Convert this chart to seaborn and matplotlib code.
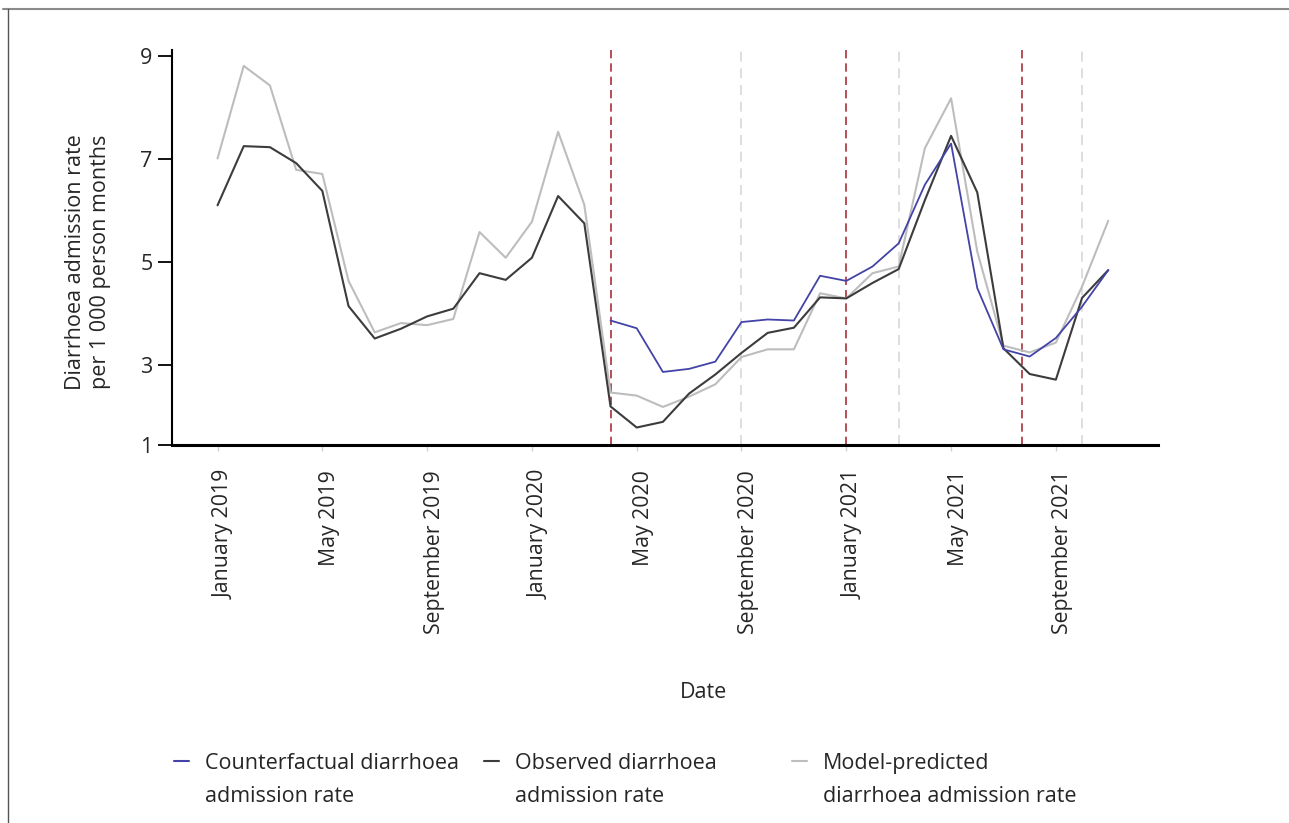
import numpy as np
import pandas as pd
import matplotlib.pyplot as plt
import matplotlib.transforms as mtransforms
from matplotlib.lines import Line2D
import seaborn as sns

# monthly rates, January 2019 (month 0) to November 2021 (month 34)
months = list(range(35))
observed = [6.10, 7.25, 7.23, 6.92, 6.38, 4.14, 3.51, 3.70, 3.94, 4.09, 4.78, 4.65,
            5.08, 6.28, 5.75, 2.19, 1.78, 1.89, 2.44, 2.81, 3.23, 3.62, 3.72, 4.31,
            4.29, 4.59, 4.86, 6.20, 7.45, 6.35, 3.32, 2.82, 2.71, 4.30, 4.84]
predicted = [7.01, 8.81, 8.43, 6.79, 6.71, 4.63, 3.63, 3.81, 3.77, 3.89, 5.58, 5.08,
             5.78, 7.53, 6.11, 2.46, 2.40, 2.18, 2.38, 2.62, 3.15, 3.30, 3.30, 4.39,
             4.29, 4.78, 4.91, 7.21, 8.18, 5.20, 3.37, 3.24, 3.43, 4.52, 5.80]
# counterfactual only exists from April 2020 (month 15)
cf_months = list(range(15, 35))
counterfactual = [3.86, 3.71, 2.86, 2.92, 3.06, 3.83, 3.88, 3.86, 4.73, 4.63,
                  4.91, 5.36, 6.50, 7.30, 4.49, 3.30, 3.16, 3.52, 4.13, 4.84]

# intervention markers (month index)
red_lines = [15, 24, 30.7]
grey_lines = [20, 26, 33]

tick_months = [0, 4, 8, 12, 16, 20, 24, 28, 32]
tick_labels = ["January 2019", "May 2019", "September 2019", "January 2020", "May 2020",
               "September 2020", "January 2021", "May 2021", "September 2021"]
y_ticks = [1.44, 3, 5, 7, 9]
y_tick_labels = ["1", "3", "5", "7", "9"]

sns.set_style("white")
plt.rcParams['font.family'] = ['Open Sans', 'DejaVu Sans']

fig = plt.figure(figsize=(12.89, 8.23), dpi=100)
ax = fig.add_axes([0.1334, 0.4593, 0.765, 0.480])

for m in red_lines:
    ax.axvline(m, color='#a9303c', linestyle=(0, (5, 3)), linewidth=1.2, zorder=1)
for m in grey_lines:
    ax.axvline(m, color='#d8d8d8', linestyle=(0, (6, 4)), linewidth=1.2, zorder=1)

sns.lineplot(x=months, y=predicted, ax=ax, color='#bdbdbd', linewidth=1.5, zorder=2)
sns.lineplot(x=months, y=observed, ax=ax, color='#3c3c3c', linewidth=1.5, zorder=3)
sns.lineplot(x=cf_months, y=counterfactual, ax=ax, color='#4343a8', linewidth=1.3, zorder=4)

ax.set_xlim(-1.74, 35.9)
ax.set_ylim(1.44, 9.12)
ax.set_yticks(y_ticks)
ax.set_yticklabels(y_tick_labels, fontsize=15.5)
ax.set_xticks(tick_months)
ax.set_xticklabels(tick_labels, rotation=90, fontsize=15.3, va='top', ha='center')
ax.set_xlabel("")
ax.set_ylabel("")

ax.tick_params(axis='y', direction='out', length=10, width=1.3, color='black', pad=4, left=True)
ax.tick_params(axis='x', direction='out', length=4, width=1, color='#d0d0d0', pad=14, bottom=True)
offset = mtransforms.ScaledTranslation(7 / 100, 0, fig.dpi_scale_trans)
for lab in ax.get_xticklabels():
    lab.set_transform(lab.get_transform() + offset)

sns.despine(ax=ax)
ax.spines['left'].set_linewidth(1.5)
ax.spines['left'].set_color('black')
ax.spines['bottom'].set_linewidth(2.2)
ax.spines['bottom'].set_color('black')

fig.text(88 / 1289, 1 - 262 / 823, "Diarrhoea admission rate\nper 1 000 person months",
         rotation=90, ha='center', va='center', multialignment='center', fontsize=15.5,
         linespacing=1.3)
fig.text(703 / 1289, 1 - 693 / 823, "Date", ha='center', va='center', fontsize=15.5)

# legend: three separate entries, handle next to the first line of each label
entries = [("#4343a8", "Counterfactual diarrhoea", "admission rate", 174),
           ("#3c3c3c", "Observed diarrhoea", "admission rate", 484),
           ("#bdbdbd", "Model-predicted", "diarrhoea admission rate", 792)]
legends = []
for col, line1, line2, xpx in entries:
    h = Line2D([], [], color=col, linewidth=1.5)
    leg = fig.legend([h], [line1], loc='upper left', bbox_to_anchor=(xpx / 1289, 1 - 753 / 823),
                     frameon=False, fontsize=15.5, handlelength=0.7, handletextpad=0.75,
                     borderaxespad=0, borderpad=0)
    legends.append((leg, line2))

fig.canvas.draw()
for leg, line2 in legends:
    bb = leg.get_texts()[0].get_window_extent()
    fig.text(bb.x0 / fig.bbox.width, (bb.y0 - 33 + bb.height) / fig.bbox.height, line2,
             ha='left', va='top', fontsize=15.5)

# page frame: top and left edges
fig.add_artist(Line2D([0.002, 1.0], [1 - 9 / 823, 1 - 9 / 823], color='#8a8a8a', linewidth=1.5,
                      transform=fig.transFigure))
fig.add_artist(Line2D([8 / 1289, 8 / 1289], [0, 1 - 9 / 823], color='#555555', linewidth=1.0,
                      transform=fig.transFigure))

fig.savefig("out.png", dpi=100)
